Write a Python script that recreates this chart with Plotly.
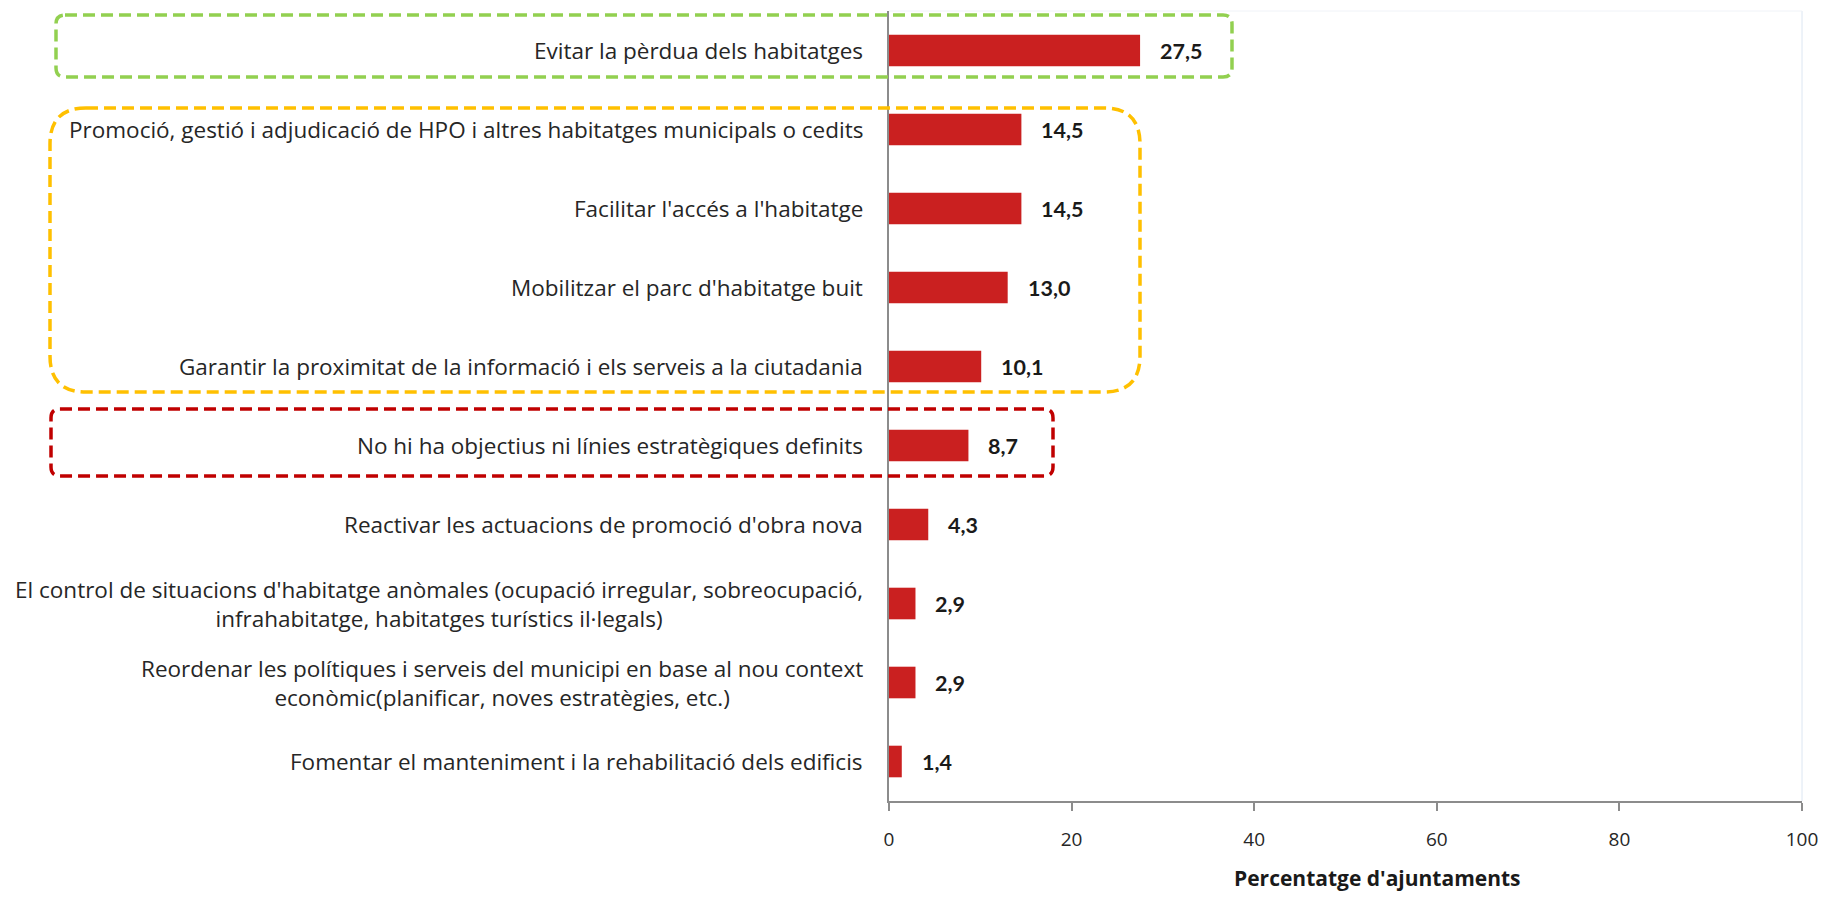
import plotly.graph_objects as go

categories = [
    "Evitar la pèrdua dels habitatges",
    "Promoció, gestió i adjudicació de HPO i altres habitatges municipals o cedits",
    "Facilitar l'accés a l'habitatge",
    "Mobilitzar el parc d'habitatge buit",
    "Garantir la proximitat de la informació i els serveis a la ciutadania",
    "No hi ha objectius ni línies estratègiques definits",
    "Reactivar les actuacions de promoció d'obra nova",
    "El control de situacions d'habitatge anòmales (ocupació irregular, sobreocupació,<br>infrahabitatge, habitatges turístics il·legals)",
    "Reordenar les polítiques i serveis del municipi en base al nou context<br>econòmic(planificar, noves estratègies, etc.)",
    "Fomentar el manteniment i la rehabilitació dels edificis",
]
values = [27.5, 14.5, 14.5, 13.0, 10.1, 8.7, 4.3, 2.9, 2.9, 1.4]
x_ticks = [0, 20, 40, 60, 80, 100]
x_title = "Percentatge d'ajuntaments"

# page body has an 8px margin; work in figure pixels (page px - 8)
OFF = 8
W_FIG, H_FIG = 1828 - 2 * OFF, 899 - 2 * OFF
L = 889 - OFF
T = 11 - OFF
PLOT_BOTTOM = 801 - OFF
PW = 913
B = H_FIG - PLOT_BOTTOM
R = W_FIG - L - PW
PH = PLOT_BOTTOM - T
FONT = "Open Sans"
VFONT = "Lato"

def px2x(px):
    return (px - OFF - L) / PW

def px2y(py):
    return (PLOT_BOTTOM - (py - OFF)) / PH

def rounded(x0, y0, x1, y1, r):
    def p(a, b):
        return f"{px2x(a):.5f},{px2y(b):.5f}"
    return (f"M {p(x0+r,y0)} L {p(x1-r,y0)} Q {p(x1,y0)} {p(x1,y0+r)} "
            f"L {p(x1,y1-r)} Q {p(x1,y1)} {p(x1-r,y1)} L {p(x0+r,y1)} "
            f"Q {p(x0,y1)} {p(x0,y1-r)} L {p(x0,y0+r)} Q {p(x0,y0)} {p(x0+r,y0)} Z")

fig = go.Figure(go.Bar(
    x=values, y=categories, orientation="h",
    marker=dict(color="#CA2020", line=dict(width=0)),
    width=0.4,
    hoverinfo="skip",
))

annotations = []
for c, v in zip(categories, values):
    annotations.append(dict(
        x=0, y=c, xref="x", yref="y", text=c, showarrow=False,
        xanchor="right", align="center", xshift=-24,
        font=dict(family=FONT, size=22.5, color="#262626"),
    ))
    annotations.append(dict(
        x=v, y=c, xref="x", yref="y", text=f"<b>{v:.1f}</b>".replace(".", ","),
        showarrow=False, xanchor="left", xshift=18,
        font=dict(family=VFONT, size=21.5, color="#1a1a1a"),
    ))
annotations.append(dict(
    x=px2x(1377), y=px2y(878), xref="paper", yref="paper",
    text=f"<b>{x_title}</b>", showarrow=False, xanchor="center", yanchor="middle",
    font=dict(family=FONT, size=21, color="#1a1a1a"),
))

shapes = [
    dict(type="path", xref="paper", yref="paper",
         path=rounded(56, 15, 1232, 77, 9),
         line=dict(color="#92D050", width=3.5, dash="12px,6px")),
    dict(type="path", xref="paper", yref="paper",
         path=rounded(50, 108, 1140, 392, 36),
         line=dict(color="#FFC000", width=3.5, dash="12px,6px")),
    dict(type="path", xref="paper", yref="paper",
         path=rounded(51, 409, 1053, 476, 9),
         line=dict(color="#C00000", width=3.5, dash="12px,6px")),
    dict(type="line", xref="paper", yref="paper", x0=1, x1=1, y0=0, y1=1,
         line=dict(color="#DCE6F2", width=1)),
    dict(type="line", xref="paper", yref="paper", x0=0, x1=1, y0=1, y1=1,
         line=dict(color="#F0F3F8", width=1)),
]

fig.update_layout(
    width=W_FIG, height=H_FIG,
    margin=dict(l=L, r=R, t=T, b=B),
    paper_bgcolor="white", plot_bgcolor="white",
    showlegend=False,
    annotations=annotations,
    shapes=shapes,
    font=dict(family=FONT),
)
fig.update_xaxes(
    range=[0, 100], tickvals=x_ticks, ticks="outside", ticklen=8, tickwidth=2,
    tickcolor="#8c8c8c", showline=True, linecolor="#8c8c8c", linewidth=2,
    showgrid=False, zeroline=False, ticklabelstandoff=12,
    tickfont=dict(family=FONT, size=19, color="#262626"),
)
fig.update_yaxes(
    autorange="reversed", showticklabels=False, ticks="", showline=True,
    linecolor="#8c8c8c", linewidth=2, showgrid=False, zeroline=False,
)

fig.write_html("out.html")
